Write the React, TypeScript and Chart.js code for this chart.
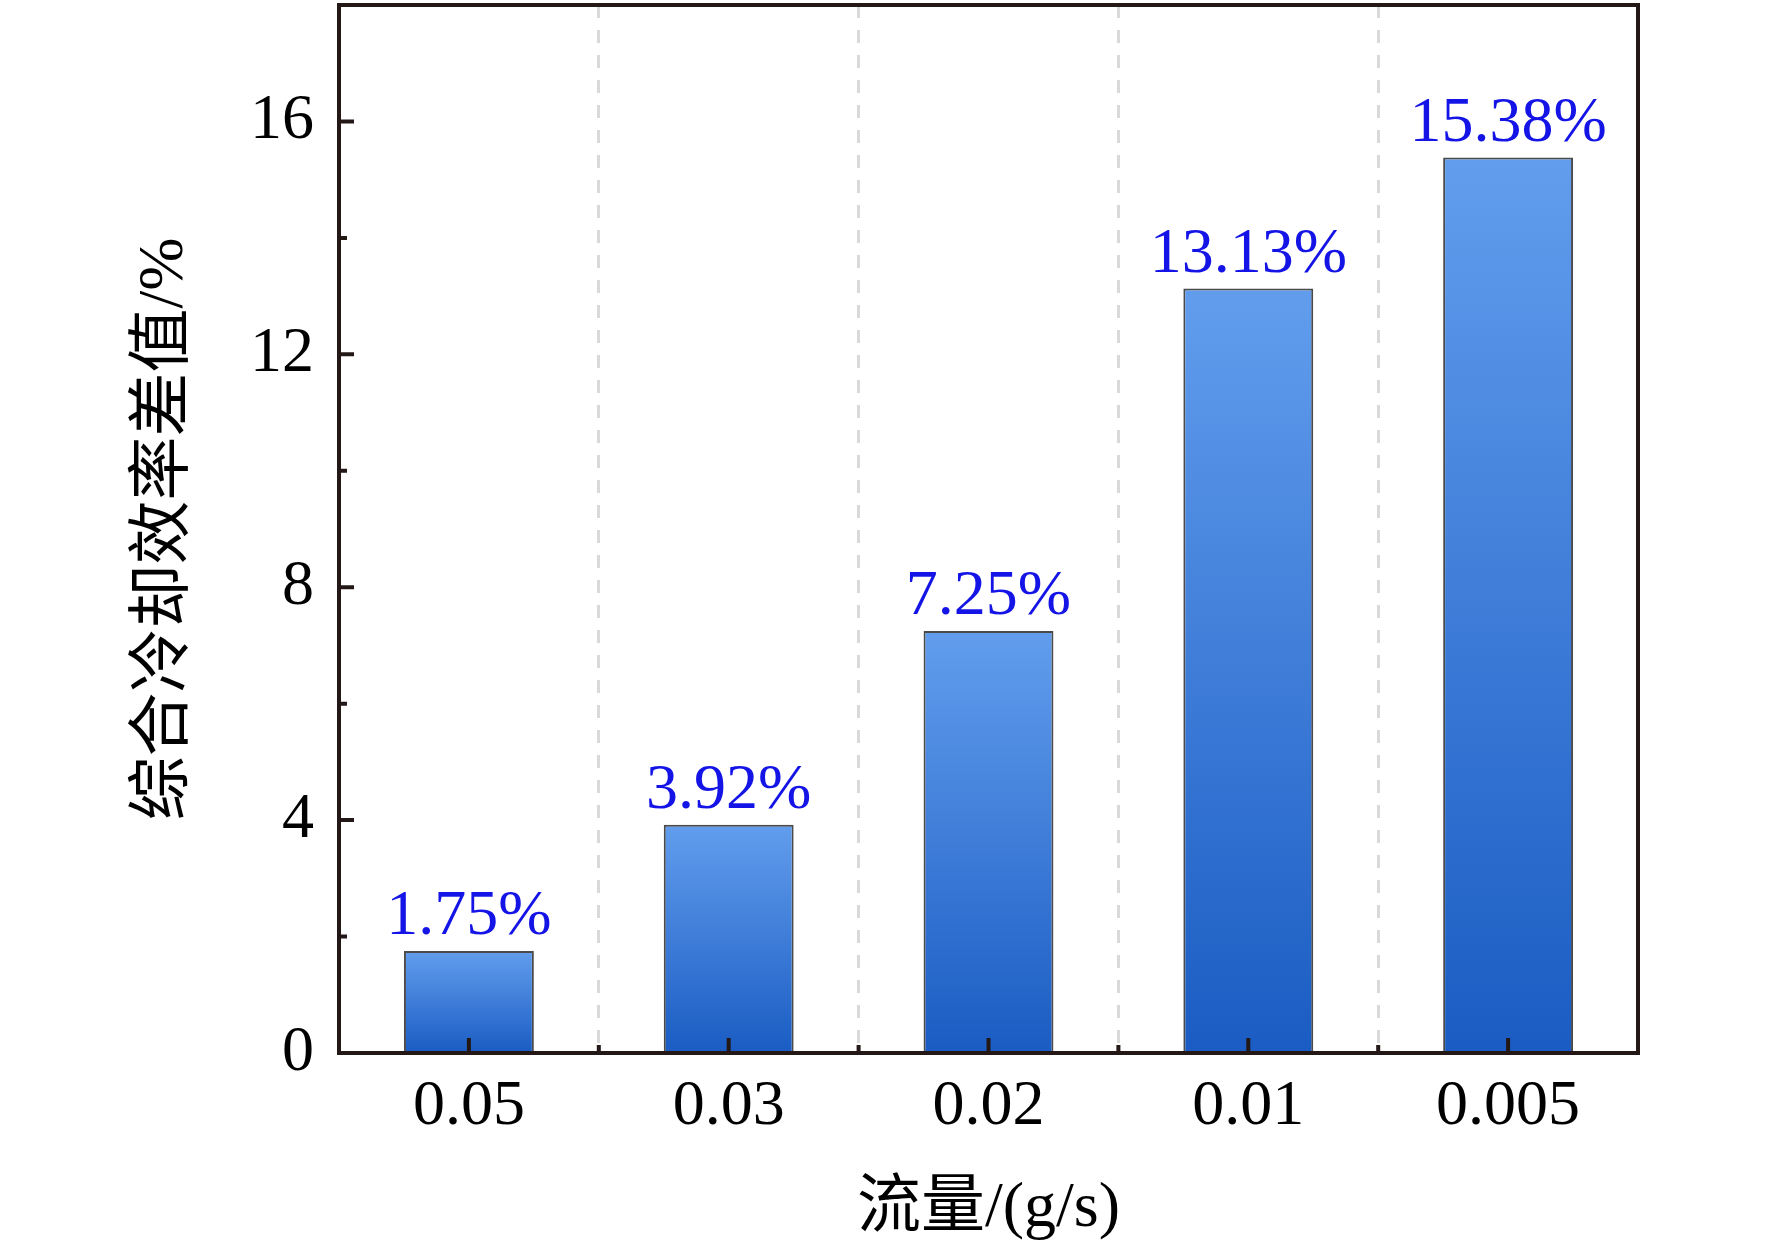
import { useEffect, useRef } from "react";
import { Chart, registerables } from "chart.js";
Chart.register(...registerables);

const flowRates = ["0.05", "0.03", "0.02", "0.01", "0.005"];
const efficiencyDiff = [1.75, 3.92, 7.25, 13.13, 15.38];
const yLabelTicks = [0, 4, 8, 12, 16];

const FONT = '"Liberation Serif", "Times New Roman", "Noto Sans CJK SC", serif';
const AXIS = "#231815";

// inward tick marks + closed frame, drawn over the bars
const frameAndTicks = {
  id: "frameAndTicks",
  afterDatasetsDraw(chart: any) {
    const { ctx, chartArea: a, scales } = chart;
    const x = scales.x;
    const y = scales.y;
    ctx.save();
    ctx.strokeStyle = AXIS;
    ctx.lineWidth = 4;
    ctx.beginPath();
    y.ticks.forEach((t: any) => {
      const py = y.getPixelForValue(t.value);
      const len = yLabelTicks.includes(t.value) ? 15 : 8;
      ctx.moveTo(a.left, py);
      ctx.lineTo(a.left + len, py);
    });
    flowRates.forEach((_, i) => {
      const px = x.getPixelForValue(i);
      ctx.moveTo(px, a.bottom);
      ctx.lineTo(px, a.bottom - 15);
      if (i < flowRates.length - 1) {
        const mid = (px + x.getPixelForValue(i + 1)) / 2;
        ctx.moveTo(mid, a.bottom);
        ctx.lineTo(mid, a.bottom - 8);
      }
    });
    ctx.stroke();
    ctx.strokeRect(a.left, a.top, a.right - a.left, a.bottom - a.top);
    ctx.restore();
  },
};

const valueLabels = {
  id: "valueLabels",
  afterDatasetsDraw(chart: any) {
    const { ctx } = chart;
    const meta = chart.getDatasetMeta(0);
    ctx.save();
    ctx.font = `64px ${FONT}`;
    ctx.fillStyle = "#1414e6";
    ctx.textAlign = "center";
    ctx.textBaseline = "alphabetic";
    meta.data.forEach((bar: any, i: number) => {
      ctx.fillText(`${efficiencyDiff[i].toFixed(2)}%`, bar.x, bar.y - 17);
    });
    ctx.restore();
  },
};

export default function App() {
  const canvasRef = useRef<HTMLCanvasElement>(null);

  useEffect(() => {
    document.body.style.margin = "0";
    if (!canvasRef.current) return;
    const ctx = canvasRef.current.getContext("2d");
    if (!ctx) return;

    const chart = new Chart(ctx, {
      type: "bar",
      data: {
        labels: flowRates,
        datasets: [
          {
            data: efficiencyDiff,
            backgroundColor: (c: any) => {
              const ys = c.chart.scales.y;
              if (!ys || c.raw == null) return "#3f7fdc";
              const top = ys.getPixelForValue(c.raw);
              const base = ys.getPixelForValue(0);
              if (!Number.isFinite(top) || !Number.isFinite(base)) return "#3f7fdc";
              const g = c.chart.ctx.createLinearGradient(0, top, 0, base);
              g.addColorStop(0, "#629ded");
              g.addColorStop(1, "#1a5cc3");
              return g;
            },
            borderColor: "#4a4a4a",
            borderWidth: 2,
            barPercentage: 0.5,
            categoryPercentage: 1,
          },
        ],
      },
      options: {
        responsive: false,
        animation: false,
        devicePixelRatio: 1,
        layout: { padding: { top: 5, right: 134, left: 0, bottom: 0 } },
        plugins: { legend: { display: false }, tooltip: { enabled: false } },
        scales: {
          x: {
            afterFit: (s: any) => { s.height = 198; s.paddingLeft = 0; s.paddingRight = 0; },
            grid: { display: true, color: "#d9d9d9", lineWidth: 3, drawTicks: false, offset: true },
            border: { display: false, dash: [13, 12] },
            ticks: { color: "#000", padding: 16, font: { family: FONT, size: 64 } },
            title: { display: true, text: "流量/(g/s)", color: "#000", padding: { top: 0, bottom: 3 }, font: { family: FONT, size: 64 } },
          },
          y: {
            min: 0,
            max: 18,
            afterFit: (s: any) => { s.width = 339; s.paddingTop = 0; s.paddingBottom = 0; },
            grid: { display: false, drawTicks: false },
            border: { display: false },
            ticks: {
              stepSize: 2,
              padding: 25,
              color: "#000",
              font: { family: FONT, size: 64 },
              callback: (v: any) => (yLabelTicks.includes(Number(v)) ? String(v) : ""),
            },
            title: { display: true, text: "综合冷却效率差值/%", color: "#000", padding: { top: 127, bottom: 0 }, font: { family: FONT, size: 64 } },
          },
        },
      },
      plugins: [frameAndTicks, valueLabels],
    });

    return () => chart.destroy();
  }, []);

  return (
    <div style={{ width: 1772, height: 1251, background: "#fff" }}>
      <canvas ref={canvasRef} width={1772} height={1251} />
    </div>
  );
}
